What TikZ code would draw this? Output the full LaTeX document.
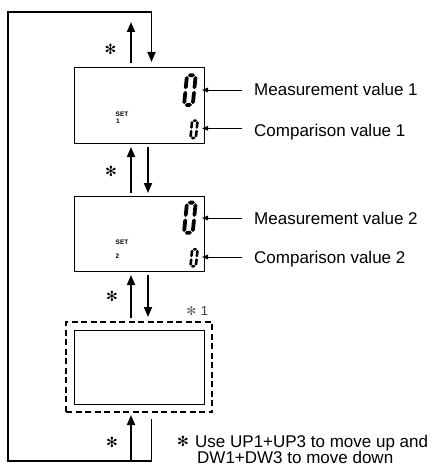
\documentclass[tikz,border=0pt]{standalone}
\usepackage{fontspec}
\setmainfont{Liberation Sans}
\newfontfamily\symf{DejaVu Sans}
\usetikzlibrary{arrows.meta,calc}
\newcommand\hseg[3]{\fill (#1,#3) -- ({#1+\dh},{#3-\dh}) -- ({#2-\dh},{#3-\dh}) -- (#2,#3) -- ({#2-\dh},{#3+\dh}) -- ({#1+\dh},{#3+\dh}) -- cycle;}
\newcommand\vseg[3]{\fill (#1,#2) -- ({#1+\dh},{#2+\dh}) -- ({#1+\dh},{#3-\dh}) -- (#1,#3) -- ({#1-\dh},{#3-\dh}) -- ({#1-\dh},{#2+\dh}) -- cycle;}
\newcommand\segzero[5]{%
  \pgfmathsetmacro\dW{#3}\pgfmathsetmacro\dH{#4}\pgfmathsetmacro\dh{#5/2}%
  \pgfmathsetmacro\dg{#5*0.2}\pgfmathsetmacro\dM{#4/2}%
  \begin{scope}[shift={(#1,#2)},xslant=0.1]
    \hseg{\dh+\dg}{\dW-\dh-\dg}{\dh}
    \hseg{\dh+\dg}{\dW-\dh-\dg}{\dH-\dh}
    \vseg{\dh}{\dh+\dg}{\dM-\dg}
    \vseg{\dW-\dh}{\dh+\dg}{\dM-\dg}
    \vseg{\dh}{\dM+\dg}{\dH-\dh-\dg}
    \vseg{\dW-\dh}{\dM+\dg}{\dH-\dh-\dg}
  \end{scope}}
\begin{document}
\begin{tikzpicture}[x=1pt,y=-1pt,
  box/.style={draw, line width=1pt, minimum width=130pt, minimum height=75pt, anchor=north west, inner sep=0pt, outer sep=0pt},
  arrline/.style={line width=1.8pt, -{Triangle[width=8pt,length=10pt]}},
  leader/.style={line width=0.8pt, -{Triangle[width=4.5pt,length=6pt]}},
  lbl/.style={font=\fontsize{17}{19}\selectfont, anchor=base west, inner sep=0pt},
  star/.style={font=\symf\fontsize{14}{14}\selectfont, inner sep=0pt, text=black},
  setlbl/.style={font=\bfseries\fontsize{6.5}{7}\selectfont, anchor=west, inner sep=0pt},
  foot/.style={font=\fontsize{17}{20}\selectfont, anchor=base west, inner sep=0pt}]
\useasboundingbox (0,0) rectangle (434,468);

% boxes
\node[box] (b1) at (74,68) {};
\node[box] (b2) at (74,196) {};
\node[box, dash pattern=on 6pt off 3.5pt, line width=1.2pt, minimum width=146pt, minimum height=90pt] (d3) at (66,322) {};
\node[box, minimum height=74pt] (b3) at (74,330) {};

% digits
\segzero{185.3}{73.3}{12.5}{33.5}{3.8}
\segzero{191}{119.3}{8}{20}{2.6}
\segzero{185.3}{200.7}{12.5}{34}{3.8}
\segzero{191}{248}{8}{19.5}{2.6}

% SET labels
\node[setlbl] (s1) at (115.5,114.5) {SET};
\node[setlbl] (n1) at (116,121) {1};
\node[setlbl] (s2) at (115.5,242.2) {SET};
\node[setlbl] (n2) at (115.5,256.3) {2};

% labels and leaders
\node[lbl] (m1) at (254,96) {Measurement value 1};
\node[lbl] (c1) at (254,136) {Comparison value 1};
\node[lbl] (m2) at (254,224) {Measurement value 2};
\node[lbl] (c2) at (254,263.5) {Comparison value 2};
\coordinate (l1) at (242,90);
\coordinate (l2) at (242,128.3);
\coordinate (l3) at (242,218);
\coordinate (l4) at (242,257);
\draw[leader] (l1) -- ($(l1 -| b1.east)+(-2,0)$);
\draw[leader] (l2) -- ($(l2 -| b1.east)+(-2,0)$);
\draw[leader] (l3) -- ($(l3 -| b2.east)+(-2,0)$);
\draw[leader] (l4) -- ($(l4 -| b2.east)+(-2,0)$);

% loop
\coordinate (rb) at (151.5,461);
\coordinate (lt) at (8,12);
\draw[arrline] ([xshift=85.5pt,yshift=-7pt]d3.south west) -- (rb) -| (lt) -| ([xshift=77.5pt,yshift=6pt]b1.north west);
\draw[arrline] ([xshift=57pt,yshift=5pt]b1.north west) -- ++(0,-41);

% between b1 and b2
\draw[arrline] ([xshift=57pt,yshift=3pt]b2.north west) -- ([xshift=57pt,yshift=-4pt]b1.south west);
\draw[arrline] ([xshift=74pt,yshift=-4pt]b1.south west) -- ([xshift=74pt,yshift=3pt]b2.north west);
% between b2 and d3
\draw[arrline] ([xshift=65pt,yshift=4pt]d3.north west) -- ([xshift=57pt,yshift=-4pt]b2.south west);
\draw[arrline] ([xshift=74pt,yshift=-4pt]b2.south west) -- ([xshift=82pt,yshift=5pt]d3.north west);
% bottom
\draw[arrline] ([xshift=-20.5pt]rb) -- ([xshift=65pt,yshift=-3pt]d3.south west);

% asterisks
\node[star] (a1) at (110.5,49.5) {✻};
\node[star] (a2) at (111,171) {✻};
\node[star] (a3) at (112,296) {✻};
\node[star] (a4) at (112,442) {✻};
\node[star, text=black!60, font=\symf\fontsize{12}{12}\selectfont] (a5) at (191.5,311) {✻};
\node[font=\fontsize{13}{13}\selectfont, inner sep=0pt, text=black!75] (one) at (204.5,311) {1};

% footnote
\node[star] (fa) at (183,441) {✻};
\node[foot] (f1) at (195,447.5) {Use UP1+UP3 to move up and};
\node[foot] (f2) at (197,463) {DW1+DW3 to move down};
\end{tikzpicture}
\end{document}
